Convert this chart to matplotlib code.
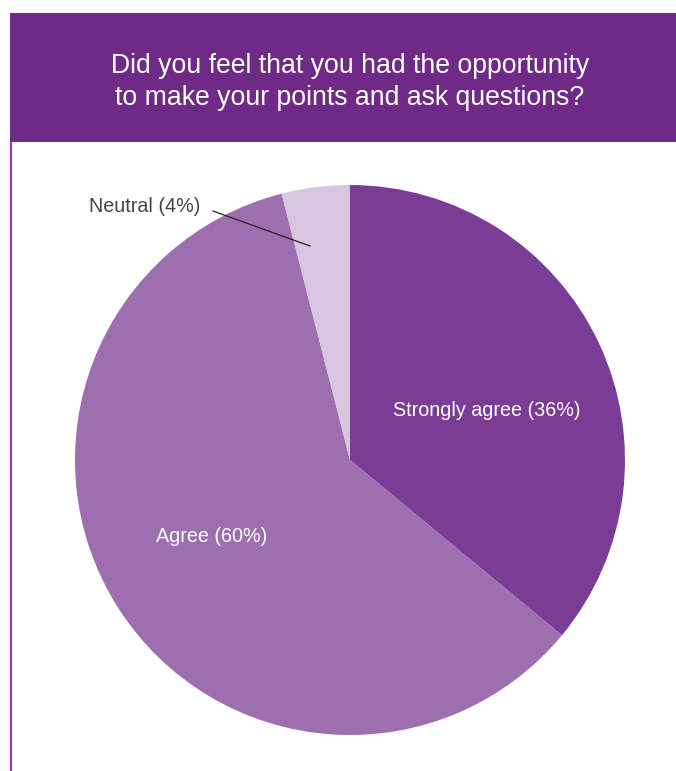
import matplotlib
matplotlib.use("Agg")
import matplotlib.pyplot as plt
from matplotlib.patches import Rectangle

categories = ["Strongly agree", "Agree", "Neutral"]
values = [36, 60, 4]
colors = ["#7B3C96", "#9D6FAF", "#D8C6E1"]
title = "Did you feel that you had the opportunity\nto make your points and ask questions?"

W, H = 676, 771
fig = plt.figure(figsize=(W / 100, H / 100), dpi=100)
ax = fig.add_axes([0, 0, 1, 1])
ax.set_xlim(0, W)
ax.set_ylim(0, H)
ax.axis("off")

# header band
ax.add_patch(Rectangle((10, H - 142), W - 10, 129, color="#6F2986", lw=0, zorder=1))
ax.text(350, H - 82, title, ha="center", va="center", color="white",
        fontsize=19.2, family="Liberation Sans", linespacing=1.27, zorder=3)
# left border line
ax.plot([11, 11], [0, H - 142], color="#8E44B0", lw=1.6, zorder=2, solid_capstyle="butt")

cx, cy, r = 350, H - 460, 275
wedges, _ = ax.pie(values, colors=colors, startangle=90, counterclock=False,
                   center=(cx, cy), radius=r, frame=True,
                   wedgeprops=dict(linewidth=0))
ax.set_xlim(0, W)
ax.set_ylim(0, H)
ax.set_aspect("auto")
ax.axis("off")

lab_fs = 14.2
ax.text(487, H - 411, f"{categories[0]} ({values[0]}%)", ha="center", va="center",
        color="white", fontsize=lab_fs, family="Liberation Sans")
ax.text(212, H - 536, f"{categories[1]} ({values[1]}%)", ha="center", va="center",
        color="white", fontsize=lab_fs, family="Liberation Sans")
ax.text(145, H - 206, f"{categories[2]} ({values[2]}%)", ha="center", va="center",
        color="#444444", fontsize=lab_fs, family="Liberation Sans")
ax.plot([213, 310], [H - 211, H - 246], color="#222222", lw=0.9)

fig.savefig("out.png", dpi=100)
